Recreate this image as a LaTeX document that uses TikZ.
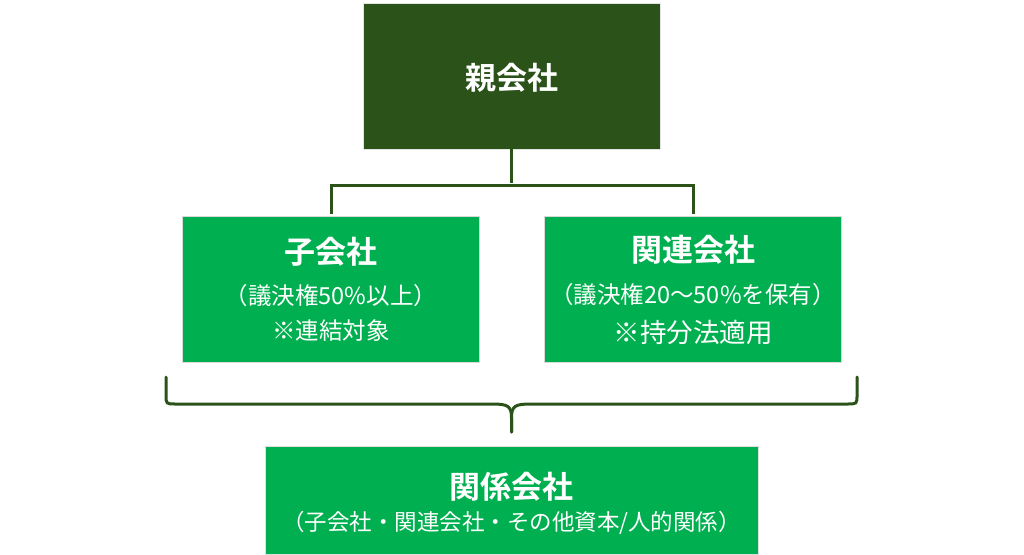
\documentclass[tikz,border=0pt]{standalone}
\usepackage{fontspec}
\setmainfont{Noto Sans CJK JP}[BoldFont={Noto Sans CJK JP Bold}]
\definecolor{dgreen}{HTML}{2A5219}
\definecolor{lgreen}{HTML}{00B050}
\tikzset{
  topbox/.style={fill=dgreen, draw=gray!20, line width=0.5pt, minimum width=297pt, minimum height=146pt, inner sep=0pt},
  midbox/.style={fill=lgreen, draw=gray!30, double=white, double distance=4pt, line width=0.6pt, minimum width=301.2pt, minimum height=150.2pt, inner sep=0pt},
  botbox/.style={fill=lgreen, draw=gray!25, line width=0.5pt, minimum width=493pt, minimum height=108pt, inner sep=0pt},
  ttl/.style={text=white, font=\bfseries\fontsize{31}{31}\selectfont, inner sep=0pt},
  subt/.style={text=white, font=\fontsize{23.5}{23.5}\selectfont, inner sep=0pt},
  conn/.style={draw=dgreen, line width=3pt},
  bracep/.style={draw=dgreen, line width=3pt, line cap=round}
}
\begin{document}
\begin{tikzpicture}[x=1pt,y=-1pt]
\useasboundingbox (0,0) rectangle (1024,554);
\begin{scope}
\clip (0,0) rectangle (1024,554);
% boxes
\node[topbox] (top) at (511.5,76) {};
\node[midbox] (left) at (331,289.5) {};
\node[midbox] (right) at (693,289.5) {};
\node[botbox] (bot) at (511.5,500) {};
% tree connectors
\draw[conn] (top.south) -- ++(0,34);
\draw[conn] (left.north) -- ++(0,-29) -| (right.north);
% brace
\coordinate (bl) at (166,377);
\coordinate (br) at (857,377);
\coordinate (bt) at (511.5,432);
\draw[bracep] (bl) -- (166,395) .. controls (166,404) .. (176,404) -- (492,404) .. controls (508,404) and (511.5,406) .. (511.5,418) -- (bt);
\draw[bracep] (br) -- (857,395) .. controls (857,404) .. (847,404) -- (531,404) .. controls (515,404) and (511.5,406) .. (511.5,418) -- (bt);
% texts
\node[ttl] (toptxt) at (511.5,78) {親会社};
\node[ttl] (lt1) at (331,252) {子会社};
\node[subt] (lt2) at (331,296) {（議決権50\%以上）};
\node[subt] (lt3) at (331,331) {※連結対象};
\node[ttl] (rt1) at (693,249.5) {関連会社};
\node[subt] (rt2) at (693,295) {（議決権20～50\%を保有）};
\node[subt, font=\fontsize{26.5}{26.5}\selectfont] (rt3) at (693,332) {※持分法適用};
\node[ttl] (bt1) at (511.5,487) {関係会社};
\node[subt, font=\fontsize{22.5}{22.5}\selectfont] (bt2) at (511.5,523) {（子会社・関連会社・その他資本/人的関係）};
\end{scope}
\end{tikzpicture}
\end{document}
